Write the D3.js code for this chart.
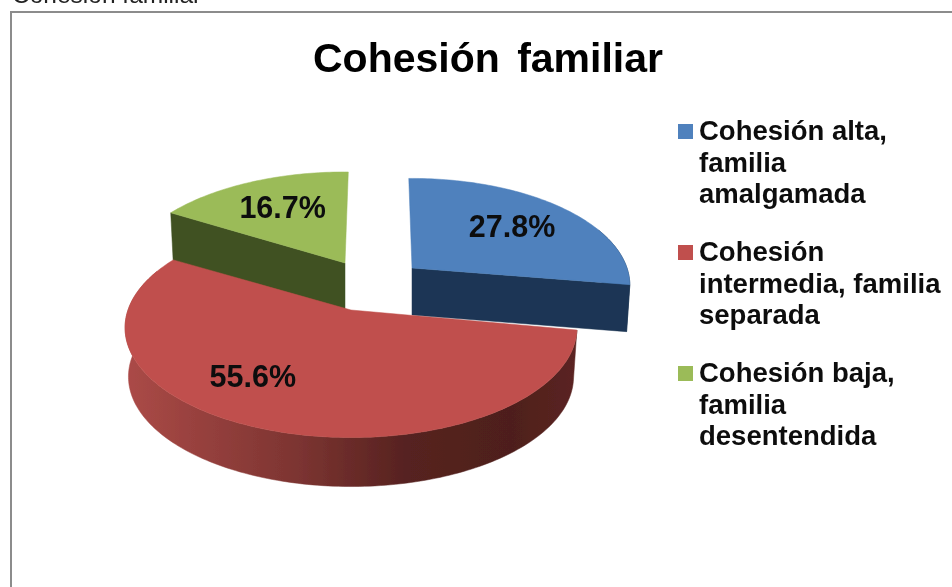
<!DOCTYPE html>
<html>
<head>
<meta charset="utf-8">
<script src="https://cdn.jsdelivr.net/npm/d3@7"></script>
<style>
  html, body { margin: 0; padding: 0; background: #fff; overflow: hidden; }
  text { font-family: "Liberation Sans", Arial, sans-serif; }
</style>
</head>
<body>
<script>
let width = 952,
    height = 587;

// data
let categories = ["Cohesión alta, familia amalgamada", "Cohesión intermedia, familia separada", "Cohesión baja, familia desentendida"];
let values = [27.8, 55.6, 16.7];
let valueLabels = ["27.8%", "55.6%", "16.7%"];
let legendLines = [["Cohesión alta,", "familia", "amalgamada"],
                   ["Cohesión", "intermedia, familia", "separada"],
                   ["Cohesión baja,", "familia", "desentendida"]];
let topColors = ["#4f81bd", "#c0504d", "#9bbb59"];
let wallColors = ["#1d3654", "url(#redWall)", "#3f5120"];

// layout of each slice: where its tip sits, how big it is
let tipX = [412, 351, 345],
    tipY = [268, 310, 263],
    radius = [215, 223, 220],
    tilt = [104, 107, 105.7],     // vertical half size of the pie
    depth = [47, 49, 52],
    sliceTurn = [0, 1.5, 2],      // degrees
    labelShift = [0, 15, 1],      // degrees
    labelAt = [0.66, 0.69, 0.66];

let persp = 0.161;   // how much nearer the front of the pie looks

let svg = d3.select("body")
            .append("svg")
            .attr("width", width)
            .attr("height", height)
            .style("display", "block");

let defs = svg.append("defs");

let grad = defs.append("linearGradient")
               .attr("id", "redWall")
               .attr("gradientUnits", "userSpaceOnUse")
               .attr("x1", 126).attr("x2", 580).attr("y1", 0).attr("y2", 0);
[[0, "#ab4a47"], [0.38, "#7c3431"], [0.62, "#562220"], [0.85, "#4e1f1c"], [1, "#5c2522"]].forEach(function(s) {
    grad.append("stop").attr("offset", s[0]).attr("stop-color", s[1]);
});

// the reference is a soft jpeg
defs.append("filter")
    .attr("id", "soft")
    .attr("filterUnits", "userSpaceOnUse")
    .attr("x", 0).attr("y", 0).attr("width", width).attr("height", height)
    .append("feGaussianBlur")
    .attr("stdDeviation", 0.5);

let chart = svg.append("g").attr("filter", "url(#soft)");

// frame runs off the right and bottom of the picture
chart.append("rect")
     .attr("x", 11).attr("y", 12)
     .attr("width", 1000).attr("height", 800)
     .attr("fill", "#fff")
     .attr("stroke", "#8c8c8c")
     .attr("stroke-width", 2);

// caption above the frame, cut by the top of the picture
chart.append("text")
     .attr("x", 12).attr("y", 3)
     .attr("font-size", 24.5)
     .attr("fill", "#222")
     .text("Cohesión familiar");

chart.append("text")
     .attr("x", 488).attr("y", 72)
     .attr("text-anchor", "middle")
     .attr("font-size", 41)
     .attr("font-weight", "bold")
     .attr("word-spacing", 6)
     .attr("fill", "#000")
     .text("Cohesión familiar");

let pie = d3.pie()
            .sort(null)
            .startAngle(-Math.PI / 180)
            .endAngle(2 * Math.PI - Math.PI / 180);
let arcs = pie(values).map(function(a, i) {
    let turn = sliceTurn[i] * Math.PI / 180;
    return {startAngle: a.startAngle + turn, endAngle: a.endAngle + turn};
});

// a point on the pie: angle from 12 o'clock, f of the radius, on top or on the bottom face
function project(i, angle, f, bottom) {
    let s = 1 / (1 + persp * f * Math.cos(angle));
    let x = radius[i] * f * Math.sin(angle) * s,
        y = -tilt[i] * f * Math.cos(angle) * s;
    if (bottom) {
        x *= 0.985;
        y += depth[i];
    }
    return [tipX[i] + x, tipY[i] + y];
}

function arcAngles(a) {
    let n = Math.ceil((a.endAngle - a.startAngle) / 0.02);
    return d3.range(n + 1).map(function(k) {
        return a.startAngle + (a.endAngle - a.startAngle) * k / n;
    });
}

let line = d3.line();

// a wall between two lists of top points, extruded to the bottom face
function wall(i, pts) {
    let top = pts.map(function(p) { return project(i, p[0], p[1], false); });
    let bot = pts.map(function(p) { return project(i, p[0], p[1], true); }).reverse();
    return line(top.concat(bot)) + "Z";
}

// back slices first, the big red one on top
[2, 0, 1].forEach(function(i) {
    let a = arcs[i];
    let g = chart.append("g");
    let rim = arcAngles(a).map(function(t) { return [t, 1]; });
    // the back of the rim never shows, nor does the cut face turned away
    let frontRim = rim.filter(function(p) { return Math.cos(p[0]) < 0.4; });
    let faces = [];
    if (frontRim.length) faces.push(frontRim);
    if (i === 0) faces.push([[a.endAngle, 1], [a.endAngle, 0]]);
    if (i === 2) faces.push([[a.startAngle, 0], [a.startAngle, 1]]);

    g.selectAll("path.wall")
     .data(faces)
     .enter()
     .append("path")
     .attr("class", "wall")
     .attr("d", function(d) { return wall(i, d); })
     .attr("fill", wallColors[i])
     .attr("stroke", wallColors[i])
     .attr("stroke-width", 0.5);

    let topPts = [project(i, a.startAngle, 0, false)]
        .concat(rim.map(function(p) { return project(i, p[0], 1, false); }));
    g.append("path")
     .attr("d", line(topPts) + "Z")
     .attr("fill", topColors[i])
     .attr("stroke", topColors[i])
     .attr("stroke-width", 0.5);
});

// value labels
chart.selectAll("text.value")
     .data(arcs)
     .enter()
     .append("text")
     .attr("class", "value")
     .attr("transform", function(d, i) {
         let mid = (d.startAngle + d.endAngle) / 2 + labelShift[i] * Math.PI / 180;
         return "translate(" + project(i, mid, labelAt[i], false) + ")";
     })
     .attr("text-anchor", "middle")
     .attr("dy", "0.36em")
     .attr("font-size", 30.5)
     .attr("font-weight", "bold")
     .attr("fill", "#0c0c10")
     .text(function(d, i) { return valueLabels[i]; });

// legend
let legendY = d3.scalePoint().domain(d3.range(categories.length)).range([140, 382]);

let legend = chart.selectAll("g.legend")
                  .data(categories)
                  .enter()
                  .append("g")
                  .attr("class", "legend")
                  .attr("transform", function(d, i) { return "translate(0," + legendY(i) + ")"; });

legend.append("rect")
      .attr("x", 678).attr("y", -16)
      .attr("width", 15).attr("height", 15)
      .attr("fill", function(d, i) { return topColors[i]; });

legend.append("text")
      .attr("font-size", 27.5)
      .attr("font-weight", "bold")
      .attr("fill", "#111")
      .selectAll("tspan")
      .data(function(d, i) { return legendLines[i]; })
      .enter()
      .append("tspan")
      .attr("x", 699)
      .attr("y", function(d, j) { return j * 31.5; })
      .text(function(d) { return d; });
</script>
</body>
</html>
